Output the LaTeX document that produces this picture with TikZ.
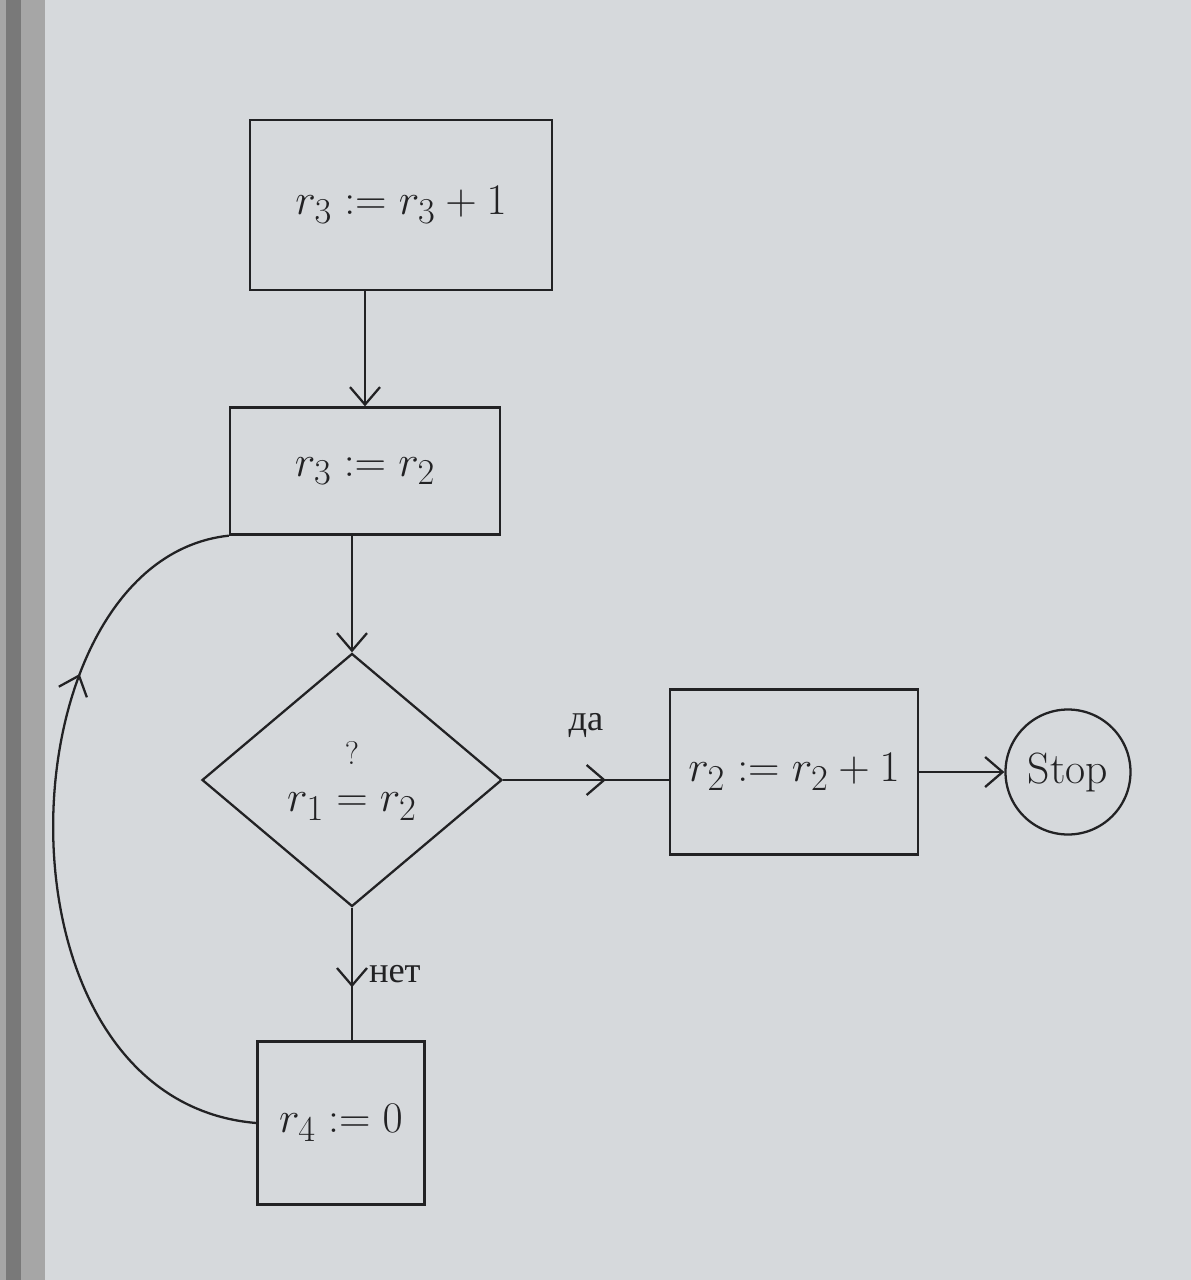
\documentclass[tikz,border=0pt]{standalone}
\usepackage{fontspec}
\newfontfamily\cyrfont{Liberation Serif}
\usetikzlibrary{arrows,arrows.meta,shapes,positioning,calc,decorations.markings}

\definecolor{board}{RGB}{214,217,220}
\definecolor{marker}{RGB}{34,34,36}

\tikzset{
  >={Straight Barb[length=3.5mm,width=6mm]},
  block/.style={draw=marker, line width=1.3pt, rectangle, inner sep=0pt, font=\Huge},
  decision/.style={draw=marker, line width=1.3pt, diamond, inner sep=0pt, font=\Huge},
  term/.style={draw=marker, line width=1.3pt, circle, inner sep=0pt, font=\Huge},
  midarrow/.style={postaction={decorate}, decoration={markings, mark=at position #1 with {\arrow{>}}}},
  lbl/.style={font=\huge\cyrfont, text=marker}
}

\begin{document}
\begin{tikzpicture}[line width=1.3pt, color=marker]

  % board
  \fill[board] (0,0) rectangle (23.82,-25.6);
  \fill[gray!70] (0,0) rectangle (0.9,-25.6);
  \fill[gray!95!black] (0.12,0) rectangle (0.42,-25.6);
  \useasboundingbox (0,0) rectangle (23.82,-25.6);

  \node[block, minimum width=6.04cm, minimum height=3.4cm] (inc3) at (8.02,-4.1) {$r_3 := r_3 + 1$};
  \node[block, minimum width=5.4cm, minimum height=2.54cm] (set3) at (7.3,-9.42) {$r_3 := r_2$};
  \node[decision, minimum width=6cm, minimum height=5.06cm] (test) at (7.04,-15.6) {$r_1 \stackrel{\raisebox{1.5ex}{\scalebox{0.75}{?}}}{=} r_2$};
  \node[block, minimum width=4.96cm, minimum height=3.3cm] (inc2) at (15.88,-15.44) {$r_2 := r_2 + 1$};
  \node[term, minimum size=2.5cm] (stop) at (21.36,-15.44) {Stop};
  \node[block, minimum width=3.34cm, minimum height=3.26cm] (set4) at (6.82,-22.46) {$r_4 := 0$};

  \draw[->] (inc3.south -| set3.north) -- (set3.north);
  \draw[->] (set3.south -| test.north) -- (test.north);
  \draw[midarrow=0.62] (test.east) -- (test.east -| inc2.west) node[lbl, pos=0.5, above=7mm] (yes) {да};
  \draw[->] (inc2.east) -- (stop.west);
  \draw[midarrow=0.6] (test.south) -- (test.south |- set4.north) node[lbl, pos=0.5, right=2mm] (no) {нет};
  \draw[midarrow=0.72] (set4.west) .. controls (-0.4,-22) and (0,-11.2) .. (set3.south west);

\end{tikzpicture}
\end{document}
